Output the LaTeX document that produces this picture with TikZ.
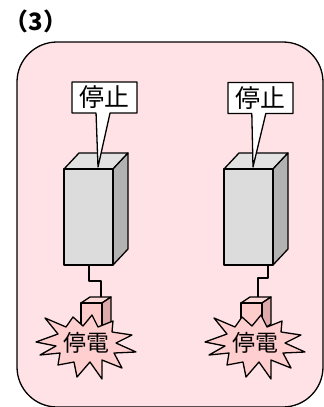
\documentclass[tikz,border=0pt]{standalone}
\usepackage{fontspec}
\newfontfamily\jp{Noto Sans CJK JP}
\usetikzlibrary{shapes.callouts}
\definecolor{panel}{RGB}{255,226,229}
\definecolor{grayfront}{RGB}{220,220,220}
\definecolor{graytop}{RGB}{226,226,226}
\definecolor{grayside}{RGB}{178,178,178}
\definecolor{pinkfront}{RGB}{255,204,204}
\definecolor{pinktop}{RGB}{255,216,216}
\definecolor{pinkside}{RGB}{222,170,170}
\definecolor{burst}{RGB}{255,206,206}
% box with depth: x, y (front top left), width, height, dx, dy, colour set
\newcommand*{\cuboid}[7]{%
  \filldraw[fill=#7top] (#1,#2) -- ({#1+#5},{#2+#6}) -- ({#1+#3+#5},{#2+#6}) -- ({#1+#3},#2) -- cycle;
  \filldraw[fill=#7side] ({#1+#3},#2) -- ({#1+#3+#5},{#2+#6}) -- ({#1+#3+#5},{#2+#4+#6}) -- ({#1+#3},{#2+#4}) -- cycle;
  \filldraw[fill=#7front] (#1,#2) rectangle ({#1+#3},{#2+#4});
}
% jagged burst round a centre
\newcommand*{\burst}[1]{%
  \filldraw[fill=burst,shift={(#1)}] (-50,-1) -- (-28,-9) -- (-41,-25) -- (-20,-16)
    -- (-13,-26) -- (-3,-17) -- (6,-28) -- (12,-16) -- (27,-22) -- (26,-11)
    -- (46,-8) -- (30,0) -- (50,9) -- (28,10) -- (36,25) -- (16,17) -- (16,36)
    -- (4,19) -- (-9,34) -- (-12,19) -- (-28,22) -- (-26,10) -- (-46,12)
    -- (-30,3) -- cycle;
}

\begin{document}
\begin{tikzpicture}[x=1bp,y=-1bp,line width=1.3bp,line join=round,
  stopbox/.style={rectangle callout,draw,fill=white,inner sep=0pt,
    minimum width=65bp,minimum height=31bp,callout pointer width=14bp,
    font=\jp\fontsize{25}{25}\selectfont},
  outage/.style={inner sep=0pt,font=\jp\fontsize{23}{23}\selectfont}]
  \useasboundingbox (0,0) rectangle (324,407);
  \node[font=\jp\bfseries\fontsize{24}{24}\selectfont] (title) at (36,21) {（3）};
  \draw[fill=panel,rounded corners=40bp] (17,42) rectangle (323,407);

  % power leads
  \coordinate (cabL) at (89,265); \coordinate (plugL) at (101,300);
  \coordinate (cabR) at (268,265); \coordinate (plugR) at (258,300);
  \draw (cabL) -- ++(0,16) -| (plugL);
  \draw (cabR) -- ++(0,13) -| (plugR);

  % servers and plugs
  \cuboid{64}{169}{49}{96}{15}{-16}{gray}
  \cuboid{224}{169}{49}{96}{15}{-16}{gray}
  \cuboid{81}{303}{21}{27}{9}{-6}{pink}
  \cuboid{241}{303}{21}{27}{9}{-6}{pink}

  \burst{86,343}
  \burst{255,343}
  \node[outage] (outL) at (86,343) {停電};
  \node[outage] (outR) at (255,343) {停電};

  \node[stopbox,callout absolute pointer={(98,167)}] (stopL) at (104.5,97.5) {停止};
  \node[stopbox,callout absolute pointer={(253,167)}] (stopR) at (260.5,98) {停止};
\end{tikzpicture}
\end{document}
